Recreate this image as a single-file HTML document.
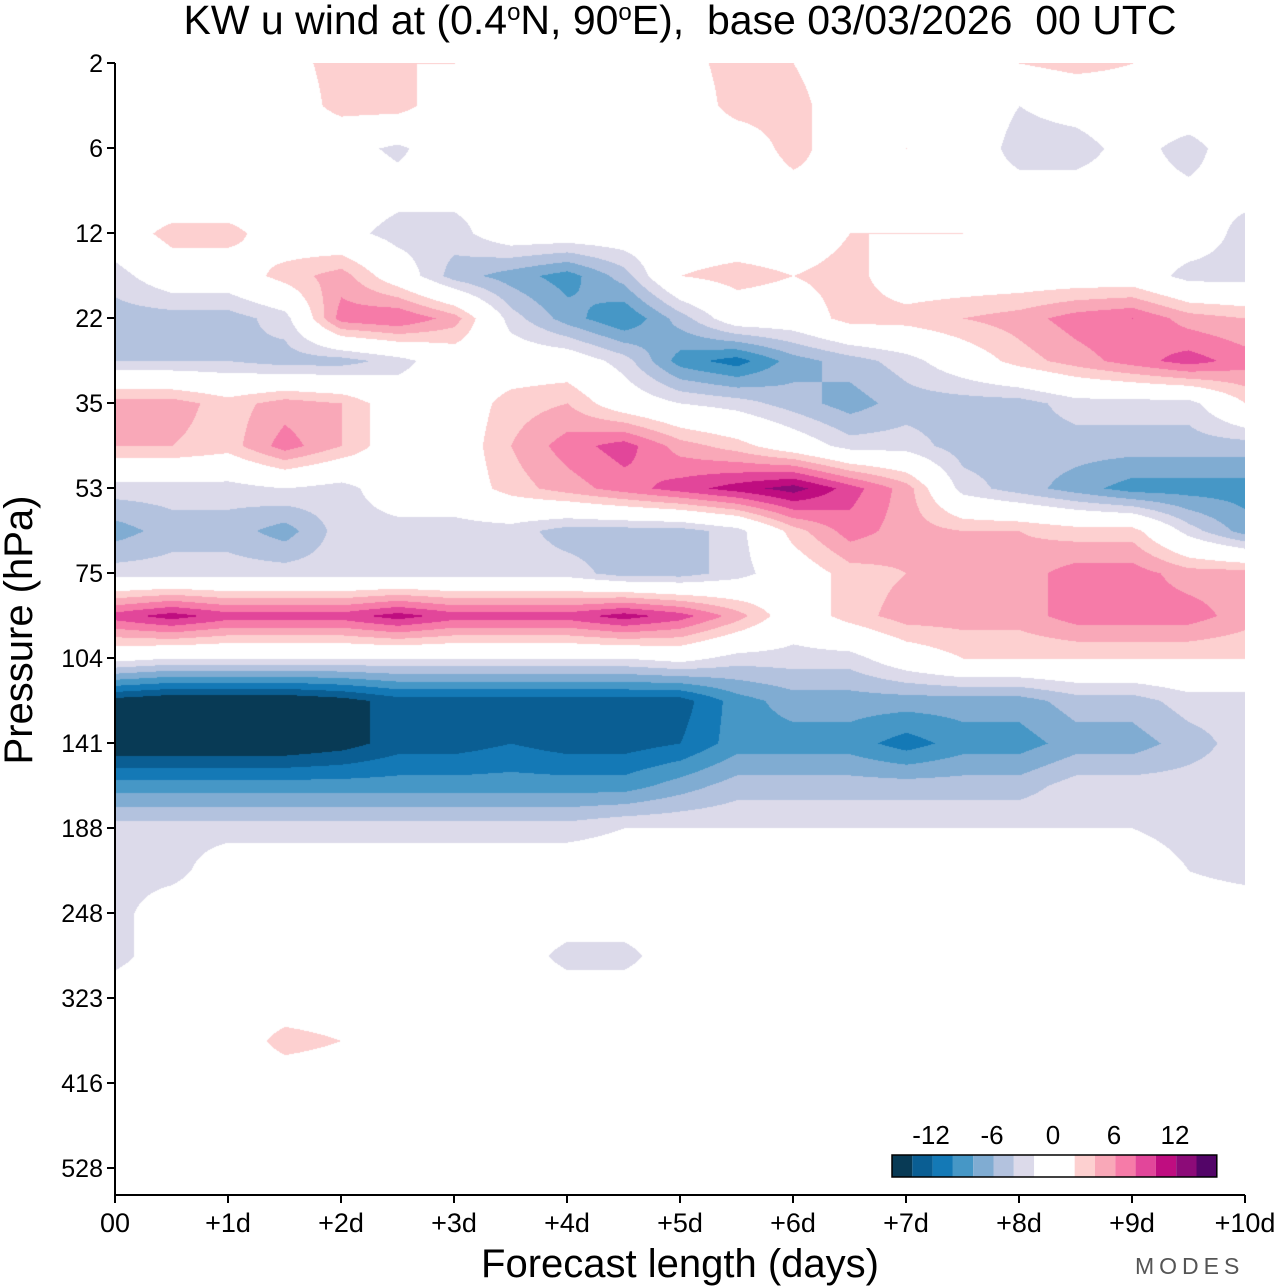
<!DOCTYPE html>
<html><head><meta charset="utf-8">
<style>
body{margin:0;background:#fff;width:1280px;height:1286px;overflow:hidden;font-family:"Liberation Sans",sans-serif;}
#wrap{position:relative;width:1280px;height:1286px;}
canvas{position:absolute;left:115px;top:63px;}
svg{position:absolute;left:0;top:0;}
</style></head><body>
<div id="wrap">
<canvas id="cv" width="1130" height="1132"></canvas>
<svg id="sv" width="1280" height="1286"></svg>
</div>
<script>
// data: forecast days (columns) and grid rows (y positions in pressure-index units)
const days = [0,0.5,1,1.5,2,2.5,3,3.5,4,4.5,5,5.5,6,6.5,7,7.5,8,8.5,9,9.5,10];
const pressureTicks = [2,6,12,22,35,53,75,104,141,188,248,323,416,528];
const dayLabels = ["00","+1d","+2d","+3d","+4d","+5d","+6d","+7d","+8d","+9d","+10d"];
const legendLabels = [-12,-6,0,6,12];
const levels = [-14,-12,-10,-8,-6,-4,-2,2,4,6,8,10,12,14];
const colors = ["#083a55","#0a5e93","#1479b6","#4697c6","#80acd2","#b3c2de","#dcdaea","#ffffff","#fdd0d0","#f9a8b8","#f67ba8","#e2469a","#bf0d80","#8c0b78","#530568"];
// u wind (m/s), rows at half-tick pressure index steps from 2 hPa downward
const uRows = [
[0,0,0,1,3,2,2,1,0,0,1,3,2,0,0,1,2,3,2,0,0],
[0,0,0,0,3,3,0,0,0,0,0,3,3,0,0,0,-2,-1,0,0,0],
[2,0,0,0,-1,-2.5,0,0,0,0,0,0,3,0,2,0,-3,-3,-1,-3,0],
[-1,-1,-1,0,0,-1,-1,-1,-1,0,0,0,1,1.5,1,-1,-1,-1,-1,-1.5,-1],
[0,3,3,0,-1,-3,-3,0,0,0,0,0,0,2,2,2,0,0,0,0,-3],
[-3,0,0,3,5,0,-5,-7,-9,-5,2,3,2,3,0,0,0,0,0,-3,-3],
[-5,-5,-5,-3,7,8,5,-3,-7,-10,-5,0,0,3,3,4,5,7,8,5,4],
[-4,-4,-4,-5,-5,-3,0,0,0,-3,-9,-11,-7,-5,-3,0,3,5,7,9,7],
[5,5,3,5,4,0,0,3,4,0,-2,-3,-5,-7,-5,-5,-5,-3,-3,-3,2],
[4,4,3,7,4,0,0,4,7,9,5,3,0,-3,-3,-5,-5,-5,-5,-5,-5],
[-3,-3,-3,-2,-3,0,0,3,5,7,9,11,13,9,5,-3,-5,-7,-9,-9,-9],
[-7,-5,-5,-7,-3,-3,-3,-3,-5,-5,-5,-3,3,7,5,4,4,3,3,-3,-7],
[-3,-3,-3,-3,-3,-3,-3,-3,-3,-5,-5,-3,0,3,4,4,5,7,7,5,5],
[9,11,9,9,9,11,9,9,9,11,9,5,0,3,5,5,5,7,7,7,5],
[-1,-2,-2,-2,-2,-2,-2,-2,-2,-2,-1,-3,-3,-3,0,2,2,2,2,2,2],
[-15,-16,-16,-16,-15,-13,-13,-13,-13,-13,-13,-9,-7,-7,-7,-7,-7,-5,-5,-3,-3],
[-16,-16,-16,-16,-15,-13,-13,-12,-13,-13,-12,-9,-9,-9,-11,-9,-9,-7,-7,-5,-3],
[-9,-9,-9,-9,-9,-9,-9,-9,-9,-9,-7,-5,-5,-5,-5,-5,-5,-3,-3,-3,-3],
[-3,-3,-3,-3,-3,-3,-3,-3,-3,-2,-2,-2,-2,-2,-2,-2,-2,-2,-2,-3,-3],
[-3,-3,0,0,0,0,0,0,0,0,0,0,0,0,0,0,0,0,0,-2,-3],
[-3,0,0,0,0,0,0,0,0,0,0,0,0,0,0,0,0,0,0,0,0],
[-3,0,0,0,0,0,0,0,-3,-3,0,0,0,0,0,0,0,0,0,0,0],
[0,0,0,0,0,0,0,0,0,0,0,0,0,0,0,0,0,0,0,0,0],
[0,0,0,3,2,0,0,0,0,0,0,0,0,0,0,0,0,0,0,0,0],
[0,0,0,0,0,0,0,0,0,0,0,0,0,0,0,0,0,0,0,0,0],
[0,0,0,0,0,0,0,0,0,0,0,0,0,0,0,0,0,0,0,0,0],
[0,0,0,0,0,0,0,0,0,0,0,0,0,0,0,0,0,0,0,0,0]
];

const X0=115, X1=1245, Y0=63, TICKSTEP=85;
function xScale(d){return X0+(X1-X0)*d/10;}
function yIndex(i){return Y0+TICKSTEP*i;}
function hex(c){return [parseInt(c.slice(1,3),16),parseInt(c.slice(3,5),16),parseInt(c.slice(5,7),16)];}

const cv=document.getElementById('cv'), ctx=cv.getContext('2d');
const W=cv.width,H=cv.height,img=ctx.createImageData(W,H);
const rgbs=colors.map(hex);
const nR=uRows.length,nC=days.length;
for(let py=0;py<H;py++){
  let r=(py)/(TICKSTEP/2); if(r>nR-1)r=nR-1;
  const r0=Math.floor(r),r1=Math.min(r0+1,nR-1),fr=r-r0;
  for(let px=0;px<W;px++){
    const d=px/(X1-X0)*10;
    let c=d/0.5; if(c>nC-1)c=nC-1;
    const c0=Math.floor(c),c1=Math.min(c0+1,nC-1),fc=c-c0;
    const v=(uRows[r0][c0]*(1-fc)+uRows[r0][c1]*fc)*(1-fr)+(uRows[r1][c0]*(1-fc)+uRows[r1][c1]*fc)*fr;
    let k=0;while(k<levels.length&&v>=levels[k])k++;
    const col=rgbs[k],o=(py*W+px)*4;
    img.data[o]=col[0];img.data[o+1]=col[1];img.data[o+2]=col[2];img.data[o+3]=255;
  }
}
ctx.putImageData(img,0,0);

const NS='http://www.w3.org/2000/svg', sv=document.getElementById('sv');
function mk(tag,attrs,txt){const e=document.createElementNS(NS,tag);for(const k in attrs)e.setAttribute(k,attrs[k]);if(txt!==undefined)e.textContent=txt;sv.appendChild(e);return e;}
let e;
e=mk('text',{x:680,y:34,'text-anchor':'middle','font-size':41,fill:'#000',style:'white-space:pre'});
e.innerHTML='KW u wind at (0.4<tspan dy="-14" font-size="24">o</tspan><tspan dy="14">N, 90</tspan><tspan dy="-14" font-size="24">o</tspan><tspan dy="14">E),  base 03/03/2026  00 UTC</tspan>';


e=mk('line',{x1:X0,y1:Y0,x2:X0,y2:1195,stroke:'#000','stroke-width':2});


e=mk('line',{x1:X0,y1:1195,x2:X1,y2:1195,stroke:'#000','stroke-width':2});


pressureTicks.forEach((p,i)=>{
  const y=yIndex(i);
  e=mk('line',{x1:107,y1:y,x2:X0,y2:y,stroke:'#000','stroke-width':2});
  
  
  e=mk('text',{x:103,y:y+9,'text-anchor':'end','font-size':25,fill:'#000'},String(p));
  
  
});
dayLabels.forEach((l,i)=>{
  const x=xScale(i);
  e=mk('line',{x1:x,y1:1195,x2:x,y2:1203,stroke:'#000','stroke-width':2});
  
  
  e=mk('text',{x:x,y:1232,'text-anchor':'middle','font-size':27,fill:'#000'},l);
  
  
});
e=mk('text',{x:680,y:1277,'text-anchor':'middle','font-size':40,fill:'#000'},'Forecast length (days)');


e=mk('text',{x:0,y:0,'text-anchor':'middle','font-size':40,fill:'#000',transform:'translate(32,630) rotate(-90)'},'Pressure (hPa)');


e=mk('text',{x:1135,y:1274,'font-size':23,fill:'#555','letter-spacing':'5'},'MODES');


const LX=892, LY=1155, BW=20.3;
let lx=LX;
colors.forEach((c,i)=>{
  const w=(c==='#ffffff')?2*BW:BW;
  e=mk('rect',{x:lx,y:LY,width:w,height:22,fill:c});
  
  
  lx+=w;
});
e=mk('rect',{x:LX,y:LY,width:lx-LX,height:22,fill:'none',stroke:'#000','stroke-width':1.5});


legendLabels.forEach(v=>{
  const x=1053+v*(61/6);
  e=mk('text',{x:x,y:1144,'text-anchor':'middle','font-size':26,fill:'#000'},String(v));
  
  
});
</script>
</body></html>
